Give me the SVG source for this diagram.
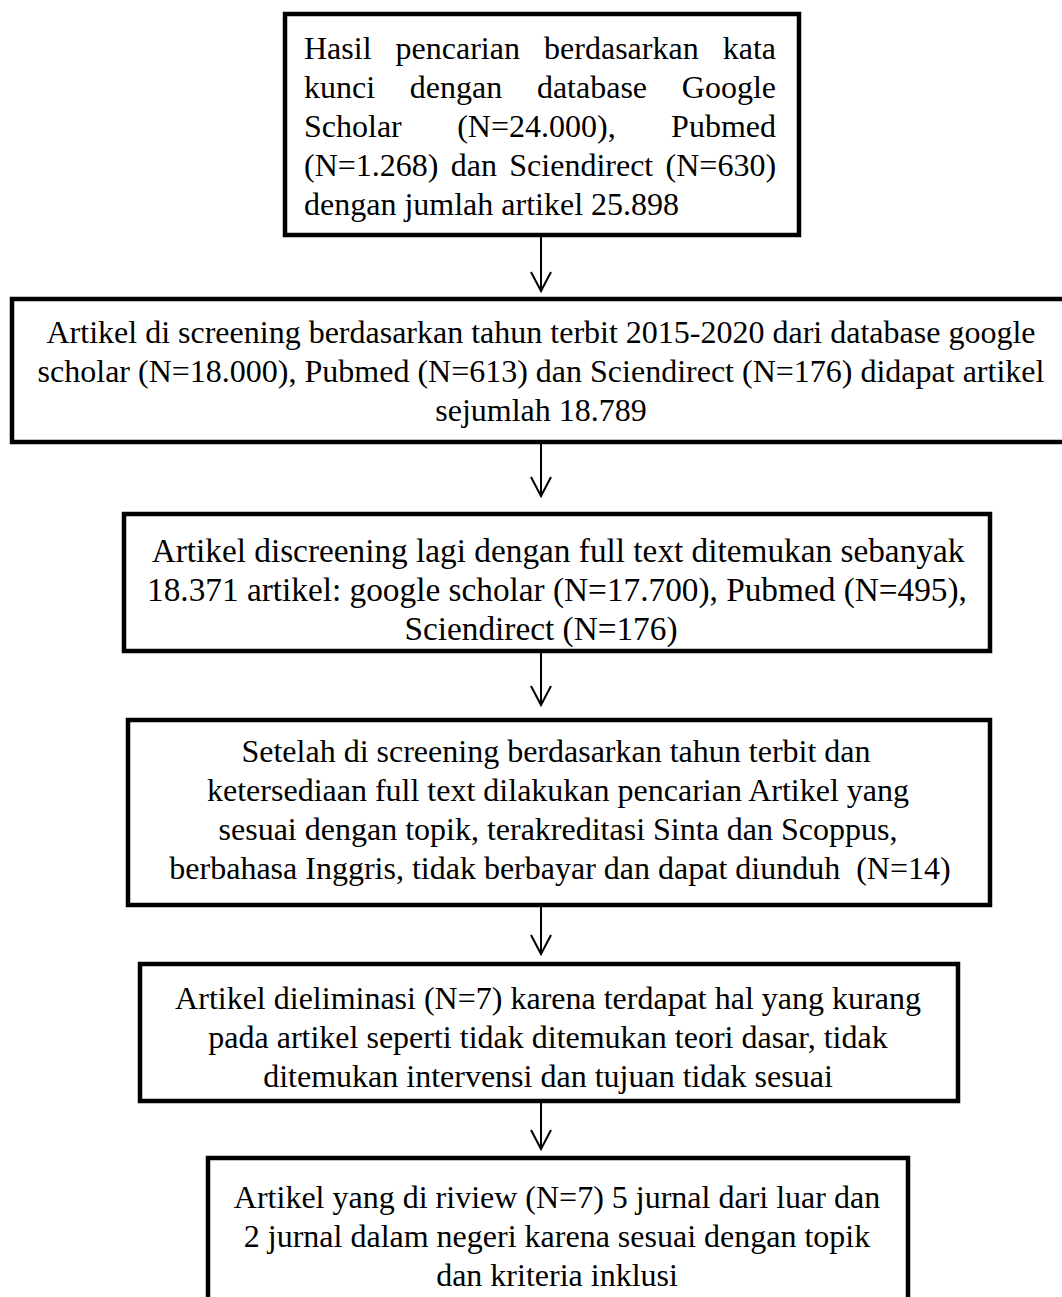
<svg xmlns="http://www.w3.org/2000/svg" width="1062" height="1297" viewBox="0 0 1062 1297">
<style>
.box{fill:#fff;stroke:#000;stroke-width:4.5}
.t{font-family:"Liberation Serif","Times New Roman",serif;font-size:32px;fill:#000}
.t3{font-size:33.3px}
.c{text-anchor:middle}
.ln{stroke:#000;stroke-width:2;fill:none}
</style>
<rect width="1062" height="1297" fill="#fff"/>
<g id="connectors">
<path class="ln" d="M541 237V291M531 272L541 291L551 272"/>
<path class="ln" d="M541 444V496M531 477L541 496L551 477"/>
<path class="ln" d="M541 652V705M531 686L541 705L551 686"/>
<path class="ln" d="M541 907V954M531 935L541 954L551 935"/>
<path class="ln" d="M541 1103V1149M531 1130L541 1149L551 1130"/>
</g>
<g id="node1">
<rect class="box" x="285" y="14" width="514" height="221"/>
<text class="t" y="59"><tspan x="304">Hasil</tspan><tspan x="395.6">pencarian</tspan><tspan x="544.1">berdasarkan</tspan><tspan x="722.7">kata</tspan></text>
<text class="t" y="98"><tspan x="304">kunci</tspan><tspan x="409.8">dengan</tspan><tspan x="536.9">database</tspan><tspan x="681.8">Google</tspan></text>
<text class="t" y="137"><tspan x="304">Scholar</tspan><tspan x="457.2">(N=24.000),</tspan><tspan x="671.1">Pubmed</tspan></text>
<text class="t" y="176"><tspan x="304">(N=1.268)</tspan><tspan x="450.8">dan</tspan><tspan x="509.3">Sciendirect</tspan><tspan x="665.6">(N=630)</tspan></text>
<text class="t" y="215" x="304">dengan jumlah artikel 25.898</text>
</g>
<g id="node2">
<rect class="box" x="12" y="299" width="1060" height="143"/>
<text class="t c" x="541" y="343">Artikel di screening berdasarkan tahun terbit 2015-2020 dari database google</text>
<text class="t c" x="541" y="382">scholar (N=18.000), Pubmed (N=613) dan Sciendirect (N=176) didapat artikel</text>
<text class="t c" x="541" y="421">sejumlah 18.789</text>
</g>
<g id="node3">
<rect class="box" x="124" y="514" width="866" height="137"/>
<text class="t t3 c" x="558" y="562">Artikel discreening lagi dengan full text ditemukan sebanyak</text>
<text class="t t3 c" x="557" y="601">18.371 artikel: google scholar (N=17.700), Pubmed (N=495),</text>
<text class="t t3 c" x="541" y="640">Sciendirect (N=176)</text>
</g>
<g id="node4">
<rect class="box" x="128" y="720" width="862" height="185"/>
<text class="t c" x="556" y="762">Setelah di screening berdasarkan tahun terbit dan</text>
<text class="t c" x="558" y="801">ketersediaan full text dilakukan pencarian Artikel yang</text>
<text class="t c" x="558" y="840">sesuai dengan topik, terakreditasi Sinta dan Scoppus,</text>
<text class="t c" x="560" y="879" xml:space="preserve">berbahasa Inggris, tidak berbayar dan dapat diunduh  (N=14)</text>
</g>
<g id="node5">
<rect class="box" x="140" y="964" width="818" height="137"/>
<text class="t c" x="548" y="1009">Artikel dieliminasi (N=7) karena terdapat hal yang kurang</text>
<text class="t c" x="548" y="1048">pada artikel seperti tidak ditemukan teori dasar, tidak</text>
<text class="t c" x="548" y="1087">ditemukan intervensi dan tujuan tidak sesuai</text>
</g>
<g id="node6">
<rect class="box" x="208" y="1158" width="700" height="160"/>
<text class="t c" x="557" y="1208">Artikel yang di riview (N=7) 5 jurnal dari luar dan</text>
<text class="t c" x="557" y="1247">2 jurnal dalam negeri karena sesuai dengan topik</text>
<text class="t c" x="557" y="1286">dan kriteria inklusi</text>
</g>
</svg>
